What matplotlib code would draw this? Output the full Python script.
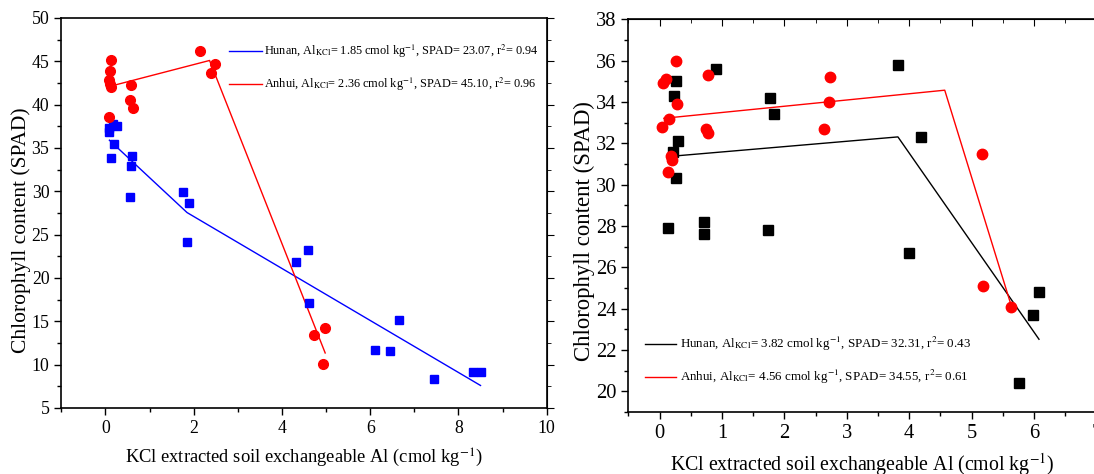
import matplotlib
matplotlib.use("Agg")
import matplotlib.pyplot as plt
from matplotlib.ticker import MultipleLocator

plt.rcParams['font.family'] = ['Liberation Serif', 'DejaVu Serif']
plt.rcParams['mathtext.fontset'] = 'stix'

# ---------------- Left panel data ----------------
hunan1_x = [0.09, 0.09, 0.165, 0.256, 0.20, 0.127, 0.60, 0.59, 0.56, 1.76, 1.89, 1.85,
            4.33, 4.59, 4.62, 6.11, 6.46, 6.65, 7.45, 8.34, 8.50]
hunan1_y = [37.3, 36.8, 37.8, 37.5, 35.5, 33.9, 34.1, 32.9, 29.4, 29.9, 28.7, 24.1,
            21.9, 23.2, 17.1, 11.7, 11.6, 15.2, 8.4, 9.1, 9.2]
anhui1_x = [2.14, 0.12, 0.10, 0.07, 0.10, 0.12, 0.57, 0.56, 0.63, 0.07, 2.49, 2.40,
            4.98, 4.73, 4.94]
anhui1_y = [46.2, 45.2, 43.9, 42.9, 42.35, 42.0, 42.3, 40.5, 39.6, 38.6, 44.7, 43.6,
            14.2, 13.4, 10.1]
hunan1_fit_x = [0.09, 1.85, 8.50]
hunan1_fit_y = [35.9, 27.55, 7.6]
anhui1_fit_x = [0.09, 2.36, 4.98]
anhui1_fit_y = [42.1, 45.1, 11.35]
label_h1 = r"Hunan, Al$_{\mathrm{KCl}}$= 1.85 cmol kg$^{-1}$, SPAD= 23.07, r$^{2}$= 0.94"
label_a1 = r"Anhui, Al$_{\mathrm{KCl}}$= 2.36 cmol kg$^{-1}$, SPAD= 45.10, r$^{2}$= 0.96"

# ---------------- Right panel data ----------------
anhui2_x = [0.263, 0.10, 0.06, 0.78, 2.73, 0.28, 2.71, 0.156, 0.04, 0.74, 0.78, 2.64,
            0.18, 0.20, 0.14, 5.17, 5.19, 5.63]
anhui2_y = [36.0, 35.1, 34.9, 35.3, 35.2, 33.9, 34.0, 33.2, 32.8, 32.7, 32.5, 32.7,
            31.4, 31.2, 30.6, 31.5, 25.1, 24.1]
hunan2_x = [0.90, 3.82, 0.26, 0.23, 1.77, 1.83, 0.29, 4.19, 0.21, 0.26, 0.14, 0.72,
            0.71, 1.74, 4.00, 6.08, 5.99, 5.76]
hunan2_y = [35.6, 35.8, 35.0, 34.3, 34.2, 33.4, 32.1, 32.3, 31.6, 30.3, 27.9, 28.2,
            27.6, 27.8, 26.7, 24.8, 23.7, 20.4]
hunan2_fit_x = [0.14, 3.82, 6.08]
hunan2_fit_y = [31.36, 32.31, 22.52]
anhui2_fit_x = [0.07, 4.57, 5.63]
anhui2_fit_y = [33.21, 34.57, 24.2]
label_h2 = r"Hunan, Al$_{\mathrm{KCl}}$= 3.82 cmol kg$^{-1}$, SPAD= 32.31, r$^{2}$= 0.43"
label_a2 = r"Anhui, Al$_{\mathrm{KCl}}$= 4.56 cmol kg$^{-1}$, SPAD= 34.55, r$^{2}$= 0.61"

xlabel = r"KCl extracted soil exchangeable Al (cmol kg$^{-1}$)"
ylabel = "Chlorophyll content (SPAD)"

W, H = 1094, 474
fig = plt.figure(figsize=(W / 100, H / 100), dpi=100)

def px_axes(l, r, t, b):
    return fig.add_axes([l / W, 1 - b / H, (r - l) / W, (b - t) / H])

# ---------- left ----------
ax1 = px_axes(61.3, 546.7, 18, 408)
ax1.plot(hunan1_fit_x, hunan1_fit_y, color='blue', lw=1.0, label=label_h1)
ax1.plot(anhui1_fit_x, anhui1_fit_y, color='red', lw=1.0, label=label_a1)
ax1.plot(hunan1_x, hunan1_y, 's', color='blue', ms=6.3, mec='blue', ls='none')
ax1.plot(anhui1_x, anhui1_y, 'o', color='red', ms=7, mec='red', ls='none')
ax1.set_xlim(-1, 10)
ax1.set_ylim(5, 50)
ax1.xaxis.set_major_locator(MultipleLocator(2))
ax1.xaxis.set_minor_locator(MultipleLocator(1))
ax1.yaxis.set_major_locator(MultipleLocator(5))
ax1.yaxis.set_minor_locator(MultipleLocator(2.5))
ax1.tick_params(which='major', direction='out', length=5, width=1, labelsize=12.8)
ax1.tick_params(which='minor', direction='out', length=3, width=1)
sec1 = ax1.secondary_yaxis('right')
sec1.yaxis.set_major_locator(MultipleLocator(5))
sec1.yaxis.set_minor_locator(MultipleLocator(2.5))
sec1.tick_params(which='both', direction='out', labelright=False)
sec1.tick_params(which='major', length=5)
sec1.tick_params(which='minor', length=3)
ax1.set_xlabel(xlabel, fontsize=13.3, labelpad=7)
ax1.set_ylabel(ylabel, fontsize=15.5)
ax1.yaxis.set_label_coords(31 / W, 1 - 230 / H, transform=fig.transFigure)
for s in ax1.spines.values():
    s.set_linewidth(1.2)
ax1.legend(loc='upper left', bbox_to_anchor=(229 / W, 1 - 43 / H),
           bbox_transform=fig.transFigure, frameon=False, fontsize=8.8,
           handlelength=2.7, handletextpad=0.2, labelspacing=1.3, borderpad=0,
           borderaxespad=0)

# ---------- right ----------
ax2 = px_axes(628.3, 1096.4, 19.3, 412)
ax2.plot(hunan2_fit_x, hunan2_fit_y, color='black', lw=1.0, label=label_h2)
ax2.plot(anhui2_fit_x, anhui2_fit_y, color='red', lw=1.0, label=label_a2)
ax2.plot(hunan2_x, hunan2_y, 's', color='black', ms=6.5, ls='none')
ax2.plot(anhui2_x, anhui2_y, 'o', color='red', ms=7.5, ls='none')
ax2.set_xlim(-0.5, 7.0)
ax2.set_ylim(19, 38)
ax2.xaxis.set_major_locator(MultipleLocator(1))
ax2.xaxis.set_minor_locator(MultipleLocator(0.5))
ax2.yaxis.set_major_locator(MultipleLocator(2))
ax2.yaxis.set_minor_locator(MultipleLocator(1))
ax2.tick_params(which='major', direction='out', length=5, width=1, labelsize=14.8)
ax2.tick_params(which='minor', direction='out', length=3, width=1)
sec2 = ax2.secondary_xaxis('top')
sec2.xaxis.set_major_locator(MultipleLocator(1))
sec2.xaxis.set_minor_locator(MultipleLocator(0.5))
sec2.tick_params(which='both', direction='in', labeltop=False)
sec2.tick_params(which='major', length=5)
sec2.tick_params(which='minor', length=3)
ax2.set_xlabel(xlabel, fontsize=14.3, labelpad=6)
ax2.set_ylabel(ylabel, fontsize=16.4)
ax2.yaxis.set_label_coords(595 / W, 1 - 231 / H, transform=fig.transFigure)
for s in ax2.spines.values():
    s.set_linewidth(1.2)
ax2.legend(loc='upper left', bbox_to_anchor=(645 / W, 1 - 335 / H),
           bbox_transform=fig.transFigure, frameon=False, fontsize=9.4,
           handlelength=2.4, handletextpad=0.3, labelspacing=1.15, borderpad=0,
           borderaxespad=0)

fig.savefig("out.png", dpi=100)
